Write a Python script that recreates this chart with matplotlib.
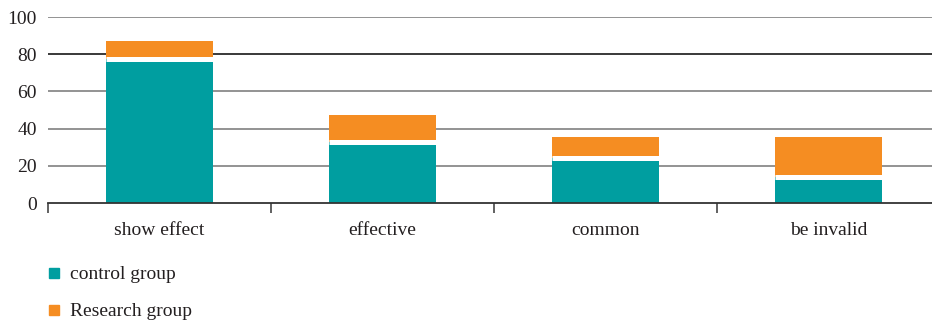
import matplotlib
matplotlib.use("Agg")
import matplotlib.pyplot as plt
from matplotlib.lines import Line2D

categories = ["show effect", "effective", "common", "be invalid"]
control_group = [77.5, 33, 24, 14]
research_group = [9.5, 14.3, 11.5, 21.5]
y_ticks = [0, 20, 40, 60, 80, 100]

teal = "#009EA0"
orange = "#F58D22"

plt.rcParams["font.family"] = ["Liberation Serif", "DejaVu Serif"]

W, H = 932, 323
fig = plt.figure(figsize=(W / 100, H / 100), dpi=100)
left, right, bottom, top = 48, 940, H - 203, H - 17
ax = fig.add_axes([left / W, bottom / H, (right - left) / W, (top - bottom) / H])

x = list(range(len(categories)))
bw = 0.48
ax.bar(x, control_group, width=bw, color=teal, linewidth=0, zorder=3)
ax.bar(x, research_group, bottom=control_group, width=bw, color=orange,
       linewidth=0, zorder=3)
# white separator between stacked segments
ax.hlines(control_group, [i - bw / 2 for i in x], [i + bw / 2 for i in x],
          colors="white", linewidth=3.6, zorder=4)

ax.set_xlim(-0.5, len(categories) - 0.5)
ax.set_ylim(0, 100)
ax.set_yticks(y_ticks)
ax.set_yticklabels([str(v) for v in y_ticks], fontsize=14, color="#231f20")
for v in y_ticks[1:]:
    c = "#2a2a2a" if v == 80 else "#8a8a8a"
    ax.axhline(v, color=c, linewidth=1.3, zorder=1)

for s in ["top", "right", "left"]:
    ax.spines[s].set_visible(False)
ax.spines["bottom"].set_color("#333333")
ax.spines["bottom"].set_linewidth(1.3)
ax.spines["bottom"].set_zorder(5)
ax.tick_params(axis="y", length=0, pad=8)

# category boundary ticks on x axis
ax.set_xticks([i - 0.5 for i in range(len(categories) + 1)])
ax.set_xticklabels([])
ax.tick_params(axis="x", which="major", length=7, width=1.3, color="#555555", direction="out")
ax.set_xticks(x, minor=True)
ax.set_xticklabels(categories, minor=True, fontsize=14, color="#231f20")
ax.tick_params(axis="x", which="minor", length=0, pad=14)

handles = [
    Line2D([], [], marker="s", linestyle="none", markersize=6.5, color=teal),
    Line2D([], [], marker="s", linestyle="none", markersize=6.5, color=orange),
]
fig.legend(handles, ["control group", "Research group"], loc="upper left",
           bbox_to_anchor=(38 / W, (H - 258) / H), frameon=False, fontsize=14,
           handlelength=0.8, handletextpad=0.45, labelspacing=1.0, borderaxespad=0,
           labelcolor="#231f20")

fig.savefig("out.png", dpi=100)
